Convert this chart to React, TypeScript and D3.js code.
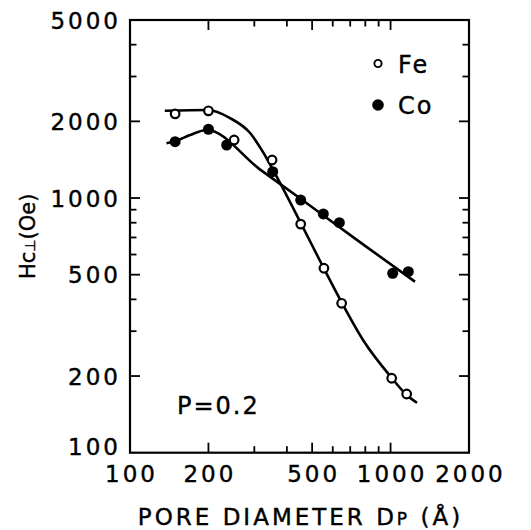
import React from 'react'
import * as d3 from 'd3'

// Fe (open circles) measured points
const feDiameter = [149, 200, 251, 351, 452, 555, 649, 1010, 1153]
const feHc = [2140, 2200, 1690, 1410, 790, 530, 386, 196, 170]

// Co (filled circles) measured points
const coDiameter = [149, 200, 235, 353, 452, 552, 636, 1019, 1170]
const coHc = [1664, 1862, 1615, 1269, 982, 866, 800, 506, 514]

// hand-drawn guide curves
const feCurveD = [136, 199, 242, 289, 324, 363, 449, 551, 651, 784, 1013, 1156, 1263]
const feCurveH = [2200, 2215, 2060, 1800, 1515, 1230, 810, 536, 387, 277, 196, 168, 157]
const coCurveD = [138, 151, 170, 197, 315, 449, 763, 1241]
const coCurveH = [1640, 1680, 1768, 1850, 1296, 998, 671, 469]

// ticks
const xLabels = [100, 200, 500, 1000, 2000]
const xMajor = [200, 500, 1000]
const xMinor = [300, 400, 600, 700, 800, 900]
const yLabels = [100, 200, 500, 1000, 2000, 5000]
const yMajor = [200, 500, 1000, 2000]
const yMinor = [300, 400, 600, 700, 800, 900, 3000, 4000]

const W = 531
const H = 530
const margin = { top: 20, right: 62, bottom: 77.3, left: 130 }
const FONT = '"DejaVu Sans", sans-serif'
// slight outline so the type looks as dark as the scanned figure
const ink = { fill: '#000', stroke: '#000', strokeWidth: 0.4 }

const App = () => {
  const x = d3.scaleLog().domain([100, 2000]).range([margin.left, W - margin.right])
  const y = d3.scaleLog().domain([100, 5000]).range([H - margin.bottom, margin.top])
  const [x0, x1] = x.range()
  const [y0, y1] = y.range()

  const line = d3.line<[number, number]>()
    .x(d => x(d[0]))
    .y(d => y(d[1]))
    .curve(d3.curveMonotoneX)

  const fePath = line(feCurveD.map((d, i) => [d, feCurveH[i]]))
  const coPath = line(coCurveD.map((d, i) => [d, coCurveH[i]]))

  const major = 10
  const minor = 6.5

  return (
    <svg width={W} height={H} style={{ position: 'absolute', left: 0, top: 0, background: '#fff' }}>
      {/* frame */}
      <rect x={x0} y={y1} width={x1 - x0} height={y0 - y1} fill="none" stroke="#000" strokeWidth={2.2} />

      {/* x ticks, bottom and top */}
      {[...xMajor.map(v => [v, major]), ...xMinor.map(v => [v, minor])].map(([v, len]) => (
        <g key={'xt' + v}>
          <line x1={x(v)} x2={x(v)} y1={y0} y2={y0 - len} stroke="#000" strokeWidth={1.8} />
          <line x1={x(v)} x2={x(v)} y1={y1} y2={y1 + len} stroke="#000" strokeWidth={1.8} />
        </g>
      ))}

      {/* y ticks, left and right */}
      {[...yMajor.map(v => [v, major]), ...yMinor.map(v => [v, minor])].map(([v, len]) => (
        <g key={'yt' + v}>
          <line x1={x0} x2={x0 + len} y1={y(v)} y2={y(v)} stroke="#000" strokeWidth={1.8} />
          <line x1={x1} x2={x1 - len} y1={y(v)} y2={y(v)} stroke="#000" strokeWidth={1.8} />
        </g>
      ))}

      {/* tick labels */}
      {xLabels.map(v => (
        <text key={'xl' + v} x={x(v) + 1.5} y={y0 + 29} textAnchor="middle"
          fontFamily={FONT} fontSize={23} letterSpacing={3} {...ink}>{v}</text>
      ))}
      {yLabels.map(v => (
        <text key={'yl' + v} x={x0 - 9} y={y(v) + (v === 100 ? 2 : v === 5000 ? 9 : 8.5)} textAnchor="end"
          fontFamily={FONT} fontSize={23} letterSpacing={3} {...ink}>{v}</text>
      ))}

      {/* axis titles */}
      <text x={(x0 + x1) / 2 + 1} y={525} textAnchor="middle" fontFamily={FONT} fontSize={23} letterSpacing={3} {...ink}>
        PORE DIAMETER D<tspan fontSize={17}>P</tspan> (Å)
      </text>
      <text transform={`translate(35, ${(y0 + y1) / 2}) rotate(-90)`} textAnchor="middle"
        fontFamily={FONT} fontSize={21} {...ink}>
        Hc<tspan fontSize={14}>⊥</tspan>(Oe)
      </text>

      {/* curves */}
      <path d={fePath ?? ''} fill="none" stroke="#000" strokeWidth={2.6} />
      <path d={coPath ?? ''} fill="none" stroke="#000" strokeWidth={2.6} />

      {/* Co points */}
      {coDiameter.map((d, i) => (
        <circle key={'co' + i} cx={x(d)} cy={y(coHc[i])} r={5.5} fill="#000" />
      ))}
      {/* Fe points */}
      {feDiameter.map((d, i) => (
        <circle key={'fe' + i} cx={x(d)} cy={y(feHc[i])} r={4.3} fill="#fff" stroke="#000" strokeWidth={2.2} />
      ))}

      {/* legend */}
      <circle cx={378} cy={63.5} r={3.6} fill="#fff" stroke="#000" strokeWidth={1.9} />
      <text x={398} y={72.5} fontFamily={FONT} fontSize={24} letterSpacing={2} {...ink}>Fe</text>
      <circle cx={378} cy={105} r={5.8} fill="#000" />
      <text x={398} y={113.5} fontFamily={FONT} fontSize={24} letterSpacing={2} {...ink}>Co</text>

      {/* annotation */}
      <text x={177} y={414} fontFamily={FONT} fontSize={24} letterSpacing={2} {...ink}>P=0.2</text>
    </svg>
  )
}

export default App
